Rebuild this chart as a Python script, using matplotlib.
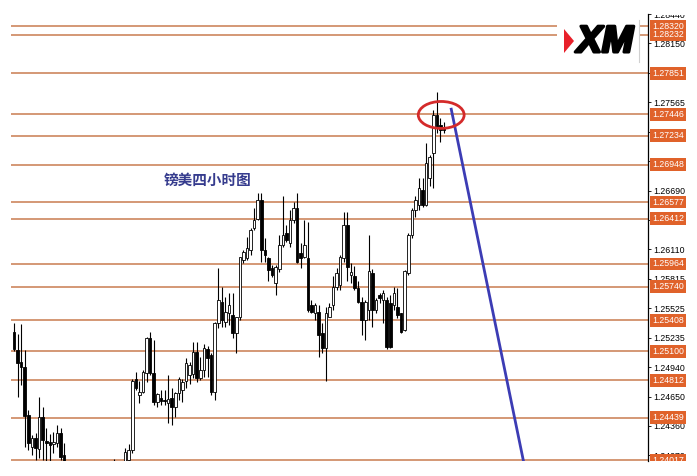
import numpy as np
import matplotlib
matplotlib.use("Agg")
import matplotlib.pyplot as plt
import matplotlib.patheffects as pe
from matplotlib.patches import Ellipse, Rectangle, Polygon
from matplotlib.transforms import Bbox, TransformedBbox, blended_transform_factory

# GBPUSD H4 candles (open, high, low, close)
opens = [1.2529, 1.2511, 1.2499, 1.2494, 1.2447, 1.2415, 1.2424, 1.2413, 1.2445, 1.2421,
         1.2420, 1.2418, 1.2419, 1.2429, 1.2407, 1.2401, 1.2385, 1.2375, 1.2382, 1.2366,
         1.2355, 1.2368, 1.2358, 1.2345, 1.2356, 1.2364, 1.2372, 1.2368, 1.2385, 1.2394,
         1.2388, 1.2393, 1.2402, 1.2412, 1.2482, 1.2467, 1.2470, 1.2488, 1.2523, 1.2488,
         1.2460, 1.2464, 1.2462, 1.2459, 1.2464, 1.2455, 1.2469, 1.2472, 1.2480, 1.2486,
         1.2487, 1.2509, 1.2483, 1.2491, 1.2512, 1.2506, 1.2470, 1.2538, 1.2559, 1.2539,
         1.2548, 1.2546, 1.2528, 1.2544, 1.2600, 1.2602, 1.2610, 1.2632, 1.2641, 1.2660,
         1.2610, 1.2602, 1.2592, 1.2578, 1.2591, 1.2615, 1.2627, 1.2617, 1.2640, 1.2652,
         1.2607, 1.2603, 1.2602, 1.2556, 1.2548, 1.2549, 1.2528, 1.2513, 1.2544, 1.2556,
         1.2574, 1.2576, 1.2602, 1.2635, 1.2585, 1.2584, 1.2573, 1.2559, 1.2541, 1.2551,
         1.2587, 1.2551, 1.2566, 1.2561, 1.2561, 1.2558, 1.2556, 1.2554, 1.2548, 1.2531,
         1.2587, 1.2625, 1.2650, 1.2655, 1.2670, 1.2655, 1.2682, 1.2706, 1.2744, 1.2734,
         1.2732]
highs = [1.2538, 1.2527, 1.2537, 1.2511, 1.2452, 1.2427, 1.2429, 1.2465, 1.2455, 1.2434,
         1.2428, 1.2430, 1.2437, 1.2434, 1.2419, 1.2399, 1.2395, 1.2388, 1.2392, 1.2378,
         1.2372, 1.2380, 1.2366, 1.2360, 1.2370, 1.2378, 1.2385, 1.2390, 1.2403, 1.2401,
         1.2398, 1.2414, 1.2418, 1.2482, 1.2489, 1.2480, 1.2491, 1.2524, 1.2529, 1.2521,
         1.2469, 1.2472, 1.2472, 1.2486, 1.2474, 1.2470, 1.2484, 1.2482, 1.2503, 1.2499,
         1.2519, 1.2519, 1.2504, 1.2517, 1.2515, 1.2508, 1.2539, 1.2592, 1.2574, 1.2564,
         1.2568, 1.2568, 1.2544, 1.2603, 1.2610, 1.2623, 1.2632, 1.2652, 1.2667, 1.2667,
         1.2622, 1.2603, 1.2595, 1.2595, 1.2625, 1.2664, 1.2635, 1.2650, 1.2658, 1.2667,
         1.2617, 1.2640, 1.2638, 1.2561, 1.2558, 1.2556, 1.2538, 1.2554, 1.2558, 1.2584,
         1.2592, 1.2605, 1.2648, 1.2648, 1.2597, 1.2594, 1.2580, 1.2564, 1.2561, 1.2625,
         1.2591, 1.2563, 1.2568, 1.2571, 1.2564, 1.2566, 1.2574, 1.2573, 1.2548, 1.2590,
         1.2627, 1.2652, 1.2664, 1.2682, 1.2682, 1.2716, 1.2704, 1.2749, 1.2767, 1.2741,
         1.2737]
lows = [1.2510, 1.2465, 1.2476, 1.2415, 1.2412, 1.2407, 1.2402, 1.2404, 1.2402, 1.2400,
        1.2400, 1.2409, 1.2415, 1.2402, 1.2392, 1.2380, 1.2370, 1.2365, 1.2360, 1.2350,
        1.2348, 1.2352, 1.2340, 1.2338, 1.2350, 1.2355, 1.2362, 1.2360, 1.2378, 1.2380,
        1.2375, 1.2388, 1.2394, 1.2409, 1.2472, 1.2459, 1.2469, 1.2479, 1.2486, 1.2457,
        1.2455, 1.2457, 1.2457, 1.2439, 1.2437, 1.2445, 1.2462, 1.2460, 1.2474, 1.2477,
        1.2483, 1.2479, 1.2481, 1.2484, 1.2484, 1.2467, 1.2462, 1.2533, 1.2534, 1.2534,
        1.2536, 1.2523, 1.2508, 1.2541, 1.2597, 1.2600, 1.2605, 1.2630, 1.2640, 1.2598,
        1.2598, 1.2580, 1.2583, 1.2566, 1.2588, 1.2613, 1.2618, 1.2613, 1.2637, 1.2597,
        1.2592, 1.2602, 1.2549, 1.2548, 1.2541, 1.2504, 1.2508, 1.2480, 1.2544, 1.2551,
        1.2571, 1.2571, 1.2598, 1.2580, 1.2578, 1.2571, 1.2558, 1.2526, 1.2521, 1.2541,
        1.2534, 1.2548, 1.2558, 1.2538, 1.2512, 1.2513, 1.2551, 1.2543, 1.2528, 1.2530,
        1.2585, 1.2622, 1.2643, 1.2650, 1.2653, 1.2654, 1.2674, 1.2672, 1.2726, 1.2717,
        1.2726]
closes = [1.2512, 1.2498, 1.2494, 1.2446, 1.2419, 1.2424, 1.2414, 1.2445, 1.2422, 1.2419,
          1.2417, 1.2420, 1.2429, 1.2405, 1.2401, 1.2385, 1.2375, 1.2382, 1.2366, 1.2355,
          1.2368, 1.2358, 1.2345, 1.2356, 1.2364, 1.2372, 1.2368, 1.2385, 1.2394, 1.2388,
          1.2392, 1.2410, 1.2412, 1.2480, 1.2474, 1.2470, 1.2489, 1.2523, 1.2488, 1.2460,
          1.2468, 1.2461, 1.2461, 1.2463, 1.2455, 1.2469, 1.2482, 1.2479, 1.2498, 1.2496,
          1.2509, 1.2483, 1.2491, 1.2513, 1.2503, 1.2470, 1.2538, 1.2561, 1.2541, 1.2549,
          1.2556, 1.2528, 1.2544, 1.2603, 1.2608, 1.2612, 1.2630, 1.2640, 1.2660, 1.2610,
          1.2605, 1.2590, 1.2585, 1.2593, 1.2615, 1.2625, 1.2620, 1.2640, 1.2652, 1.2598,
          1.2602, 1.2615, 1.2551, 1.2549, 1.2556, 1.2526, 1.2513, 1.2548, 1.2554, 1.2574,
          1.2587, 1.2603, 1.2635, 1.2593, 1.2588, 1.2573, 1.2559, 1.2541, 1.2559, 1.2589,
          1.2551, 1.2561, 1.2563, 1.2568, 1.2514, 1.2514, 1.2568, 1.2546, 1.2529, 1.2589,
          1.2625, 1.2650, 1.2660, 1.2672, 1.2655, 1.2696, 1.2702, 1.2744, 1.2731, 1.2729,
          1.2729]

# horizontal support / resistance levels
levels = [1.28320, 1.28232, 1.27851, 1.27446, 1.27234, 1.26948, 1.26577, 1.26412,
          1.25964, 1.25740, 1.25408, 1.25100, 1.24812, 1.24439, 1.24017]
level_labels = ["1.28320", "1.28232", "1.27851", "1.27446", "1.27234", "1.26948",
                "1.26577", "1.26412", "1.25964", "1.25740", "1.25408", "1.25100",
                "1.24812", "1.24439", "1.24017"]

# price scale
tick_values = [1.28440, 1.28150, 1.27860, 1.27565, 1.27275, 1.26980, 1.26690, 1.26400,
               1.26110, 1.25815, 1.25525, 1.25235, 1.24940, 1.24650, 1.24360, 1.24070]
tick_labels = ["1.28440", "1.28150", "1.27860", "1.27565", "1.27275", "1.26980",
               "1.26690", "1.26400", "1.26110", "1.25815", "1.25525", "1.25235",
               "1.24940", "1.24650", "1.24360", "1.24070"]

title_text = "镑美四小时图"

# forecast line and marked top
trend_x = [122.0, 143.0]
trend_y = [1.27497, 1.23864]
top_center = (119.2, 1.2744)

LINE_COLOR = "#c97c50"
BOX_COLOR = "#e0622a"
LABEL_FONT = "Liberation Sans"

W, H = 697, 476
fig = plt.figure(figsize=(W / 100, H / 100), dpi=100)
ax_l, ax_r, ax_t, ax_b = 11, 648, 14, 461
ax = fig.add_axes([ax_l / W, (H - ax_b) / H, (ax_r - ax_l) / W, (ax_b - ax_t) / H])


def px(x, y):
    # pixel position in the picture -> axes fraction
    return (x - ax_l) / (ax_r - ax_l), (ax_b - y) / (ax_b - ax_t)


# candles
idx = np.arange(len(opens))
o = np.array(opens)
h = np.array(highs)
l = np.array(lows)
c = np.array(closes)
up = c >= o
ax.vlines(idx, l, h, color="black", lw=0.8, zorder=3)
ax.bar(idx[up], np.maximum((c - o)[up], 0.00002), bottom=o[up], width=0.72,
       color="white", edgecolor="black", lw=0.6, zorder=4)
ax.bar(idx[~up], (o - c)[~up], bottom=c[~up], width=0.72,
       color="black", edgecolor="black", lw=0.6, zorder=4)

ax.set_xlim(-0.84, 176.9)
ax.set_ylim(1.24012, 1.28437)

# clip region for things drawn on the price scale (chart window)
clip = TransformedBbox(Bbox([[0, 15 / H], [1, (H - 14.5) / H]]), fig.transFigure)

# levels with orange price tags
trans = blended_transform_factory(ax.transAxes, ax.transData)
for lv, lab in zip(levels, level_labels):
    ax.axhline(lv, color=LINE_COLOR, lw=1.1, zorder=2)
    t = ax.text(1.0062, lv, lab, transform=trans, ha="left", va="center",
                fontsize=6.3, family=LABEL_FONT, color="white", zorder=8,
                bbox=dict(boxstyle="square,pad=0.22", fc=BOX_COLOR, ec="none"))
    t.set_clip_path(None)
    t.set_clip_box(clip)
    t.set_clip_on(True)

# axes styling
for side in ["left", "top", "bottom"]:
    ax.spines[side].set_visible(False)
ax.spines["right"].set_linewidth(0.9)
ax.set_xticks([])
ax.yaxis.tick_right()
ax.set_yticks(tick_values)
ax.set_yticklabels(tick_labels, fontsize=6.3, family=LABEL_FONT)
ax.tick_params(axis="y", length=2.5, width=0.6, pad=1.6, colors="black")
for lab in ax.get_yticklabels():
    lab.set_clip_box(clip)
    lab.set_clip_on(True)

# chart title
ax.text(*px(208, 180), title_text, transform=ax.transAxes, ha="center", va="center",
        fontsize=10.5, fontweight="bold", color="#363c8e",
        family=["Noto Sans CJK SC", "DejaVu Sans"], zorder=6)

# trend line and ellipse at the top
ax.plot(trend_x, trend_y, color="#3c3cb4", lw=2.0, zorder=6)
ax.add_patch(Ellipse(top_center, 12.8, 0.00267, fill=False, ec="#d42a2a", lw=2.0, zorder=7))

# XM logo
x0, y0 = px(557, 63)
x1, y1 = px(639, 15)
ax.add_patch(Rectangle((x0, y0), x1 - x0, y1 - y0, transform=ax.transAxes,
                       fc="white", ec="none", zorder=5))
ax.plot(*zip(px(639, 20), px(639, 62)), transform=ax.transAxes, color="#d0d0d0",
        lw=0.8, zorder=6)
ax.add_patch(Polygon([px(564, 29), px(574, 41), px(564, 53)], closed=True,
                     transform=ax.transAxes, fc="#e8202a", ec="none", zorder=6))
ax.text(*px(605, 42), "XM", transform=ax.transAxes, ha="center", va="center",
        fontsize=27, fontweight="bold", fontstyle="italic", family=LABEL_FONT,
        color="black", zorder=7,
        path_effects=[pe.withStroke(linewidth=2.2, foreground="black")])

fig.savefig("out.png", dpi=100)
